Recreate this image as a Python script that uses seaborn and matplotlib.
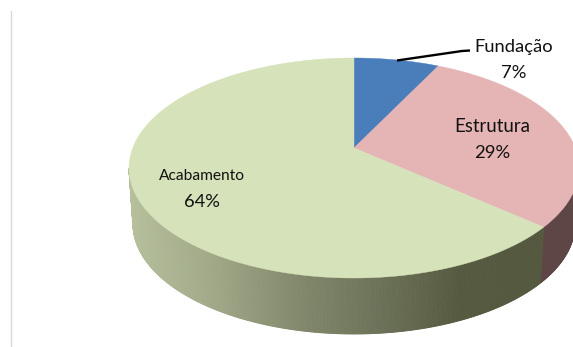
import numpy as np
import matplotlib
matplotlib.use("Agg")
import matplotlib.pyplot as plt
from matplotlib.patches import Polygon
import seaborn as sns

labels = ["Fundação", "Estrutura", "Acabamento"]
values = [7, 29, 64]
top_colors = ["#4a7ebb", "#e5b4b4", "#d6e2ba"]
side_colors = [None, "#5f4646", None]
gradient_stops = ["#b6bf9c", "#a0a888", "#83896c", "#6c7258", "#55593f", "#55593f"]
name_sizes = [13.2, 13.4, 11.2]

sns.set_theme(style="white")
plt.rcParams["font.family"] = ["Lato", "DejaVu Sans"]

fig = plt.figure(figsize=(5.73, 3.47), dpi=100, facecolor="white")
ax = fig.add_axes([0, 0, 1, 1])
ax.set_xlim(0, 573)
ax.set_ylim(347, 0)
ax.axis("off")

# geometry of the tilted disc (pixel space)
cx, cy, rx, ry = 354, 168, 225, 110
apex = np.array([354.0, 148.0])
bcx, bcy, brx, bry = 354, 224, 221, 110

def rim(phi):
    return np.c_[cx + rx * np.sin(phi), cy - ry * np.cos(phi)]

def low(phi):
    return np.c_[bcx + brx * np.sin(phi), bcy - bry * np.cos(phi)]

def ray_phi(t):
    k = 0.485 - 0.03 * np.cos(t)
    d = np.array([np.sin(t), -k * np.cos(t)])
    a = (d[0] / rx) ** 2 + (d[1] / ry) ** 2
    ox, oy = apex[0] - cx, apex[1] - cy
    b = 2 * (ox * d[0] / rx ** 2 + oy * d[1] / ry ** 2)
    c = (ox / rx) ** 2 + (oy / ry) ** 2 - 1
    s = (-b + np.sqrt(b * b - 4 * a * c)) / (2 * a)
    p = apex + s * d
    return np.arctan2((p[0] - cx) / rx, -(p[1] - cy) / ry) % (2 * np.pi)

cum = np.cumsum([0] + values) / sum(values) * 2 * np.pi
phis = [0.0] + [ray_phi(t) for t in cum[1:-1]] + [2 * np.pi]

# front wall
grad = sns.blend_palette(gradient_stops, 256)
front = np.linspace(np.pi * 0.5, np.pi * 1.5, 500)
for a, b in zip(front[:-1], front[1:]):
    pts = np.vstack([rim(np.array([a, b])), low(np.array([b, a]))])
    mid = (a + b) / 2
    col = None
    for i in range(len(values)):
        if phis[i] <= mid < phis[i + 1]:
            col = side_colors[i]
    if col is None:
        f = (pts[:, 0].mean() - 132) / (540 - 132)
        col = grad[int(np.clip(f, 0, 1) * 255)]
    ax.add_patch(Polygon(pts, closed=True, fc=col, ec=col, lw=0.6, zorder=2))

# top wedges
for i, c in enumerate(top_colors):
    arc = rim(np.linspace(phis[i], phis[i + 1], 200))
    ax.add_patch(Polygon(np.vstack([apex, arc]), closed=True, fc=c, ec=c, lw=0.3, zorder=3))

# left rule
ax.plot([11, 11], [11, 346], color="#d9d9d9", lw=1, zorder=1)

# leader
ax.plot([397, 462, 470], [60.5, 51, 50.5], color="black", lw=1.7, zorder=4, solid_capstyle="butt")

name_pos = [(514, 52), (492, 132), (202, 180)]
pct_pos = [(514, 78), (492, 158), (202, 207)]
for (nx, ny), (px, py), lab, v, s in zip(name_pos, pct_pos, labels, values, name_sizes):
    ax.text(nx, ny, lab, ha="center", va="baseline", fontsize=s, color="#111111", zorder=5)
    ax.text(px, py, f"{v}%", ha="center", va="baseline", fontsize=13.2, color="#111111", zorder=5)

fig.savefig("out.png", dpi=100, facecolor="white")
